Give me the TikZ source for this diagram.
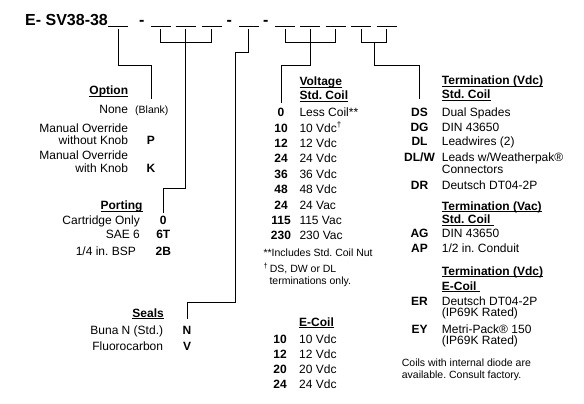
\documentclass[tikz,border=0pt]{standalone}
\usepackage{fontspec}
\setmainfont{Liberation Sans}
\usetikzlibrary{calc}
\frenchspacing
\tikzset{
  txt/.style={font=\fontsize{12}{14}\selectfont,inner sep=0pt},
  lft/.style={txt,anchor=base west},
  rgt/.style={txt,anchor=base east},
  code/.style={txt,anchor=base,font=\fontsize{12}{14}\selectfont\bfseries},
  small/.style={font=\fontsize{10.5}{12}\selectfont,inner sep=0pt,anchor=base west},
  big/.style={txt,font=\fontsize{16}{18}\selectfont\bfseries},
  wire/.style={line width=0.9pt},
  blank/.style={line width=1pt}
}
\newsavebox{\hdbox}
\newcommand{\hdr}[1]{\sbox{\hdbox}{\bfseries #1}\rlap{\rule[-2.2pt]{\wd\hdbox}{0.9pt}}\usebox{\hdbox}}

\begin{document}
\begin{tikzpicture}[x=1pt,y=-1pt]
\useasboundingbox (0,0) rectangle (584,404);
\node[big,anchor=base west] (title) at (25,25.7) {E- SV38-38};
\foreach \x/\n in {141.7/d1,229.3/d2,265.7/d3}
  \node[big,anchor=base] (\n) at (\x,25.7) {-};
\foreach \x [count=\i] in {118,160.7,185.7,211.7,248.8,285,310,335.5,361.3,386.7}{
  \draw[blank] (\x-10,26.5) -- (\x+10,26.5);
  \coordinate (t\i) at (\x,29.5);
}

\node[rgt] (opt) at (128.3,95) {\hdr{Option}};
\node[rgt] (none) at (128.3,113.3) {None};
\node[small] (blank) at (135,113.3) {(Blank)};
\node[rgt] (mo1) at (128.3,132.6) {Manual Override};
\node[rgt] (wo) at (128.3,144.3) {without Knob};
\node[code] (oP) at (151,144.3) {P};
\node[rgt] (mo2) at (128.3,159.3) {Manual Override};
\node[rgt] (wi) at (128.3,172) {with Knob};
\node[code] (oK) at (151,172) {K};

\node[rgt] (port) at (142.7,209.3) {\hdr{Porting}};
\node[rgt] (cart) at (140,224.3) {Cartridge Only};
\node[code] (p0) at (163.3,224.3) {0};
\node[rgt] (sae) at (140,238.6) {SAE 6};
\node[code] (p6T) at (163.3,238.6) {6T};
\node[rgt] (bsp) at (136,255.3) {1/4 in. BSP};
\node[code] (p2B) at (163.3,255.3) {2B};

\node[rgt] (seals) at (164,317) {\hdr{Seals}};
\node[rgt] (buna) at (163.3,334.3) {Buna N (Std.)};
\node[code] (sN) at (187,334.3) {N};
\node[rgt] (fluo) at (163.3,350.3) {Fluorocarbon};
\node[code] (sV) at (187,350.3) {V};

\node[lft] (volt) at (299.3,85.3) {\hdr{Voltage}};
\node[lft] (vstd) at (299.3,99.3) {\hdr{Std. Coil}};
\foreach \c/\d [count=\i from 0] in {0/Less Coil**,10/10 Vdc\textsuperscript{\textdagger},12/12 Vdc,24/24 Vdc,36/36 Vdc,48/48 Vdc,24/24 Vac,115/115 Vac,230/230 Vac}{
  \node[code] (v\i) at (281,{116.6+15.4*\i}) {\c};
  \node[lft] (vd\i) at (299.3,{116.6+15.4*\i}) {\d};
}
\node[small] (incl) at (263.3,256) {**Includes Std. Coil Nut};
\node[small] (dag1) at (263.3,272.8) {\textsuperscript{\textdagger}\,DS, DW or DL};
\node[small] (dag2) at (269.3,284.5) {terminations only.};

\node[lft] (ecoil) at (299,326) {\hdr{E-Coil}};
\foreach \c [count=\i from 0] in {10,12,20,24}{
  \node[code] (e\i) at (280,{343.3+15*\i}) {\c};
  \node[lft] (ed\i) at (299,{343.3+15*\i}) {\c\ Vdc};
}

\node[lft] (tvdc) at (441.7,84.3) {\hdr{Termination (Vdc)}};
\node[lft] (tstd) at (441.7,98.6) {\hdr{Std. Coil}};
\node[code] (DS) at (419.5,116) {DS};
\node[lft] (DSd) at (441.7,116) {Dual Spades};
\node[code] (DG) at (419.5,131) {DG};
\node[lft] (DGd) at (441.7,131) {DIN 43650};
\node[code] (DL) at (419.5,145.3) {DL};
\node[lft] (DLd) at (441.7,145.3) {Leadwires (2)};
\node[code] (DLW) at (419.5,161) {DL/W};
\node[lft] (DLWd) at (441.7,161) {Leads w/Weatherpak®};
\node[lft] (conn) at (441.7,173.6) {Connectors};
\node[code] (DR) at (419.5,189.3) {DR};
\node[lft] (DRd) at (441.7,189.3) {Deutsch DT04-2P};
\node[lft] (tvac) at (441.7,210) {\hdr{Termination (Vac)}};
\node[lft] (tstd2) at (441.7,223.6) {\hdr{Std. Coil\ }};
\node[code] (AG) at (419.5,237.6) {AG};
\node[lft] (AGd) at (441.7,237.6) {DIN 43650};
\node[code] (AP) at (419.5,252.6) {AP};
\node[lft] (APd) at (441.7,252.6) {1/2 in. Conduit};
\node[lft] (tvdc2) at (441.7,275) {\hdr{Termination (Vdc)}};
\node[lft] (tec) at (441.7,290) {\hdr{E-Coil\ }};
\node[code] (ER) at (419.5,305.3) {ER};
\node[lft] (ERd) at (441.7,305.3) {Deutsch DT04-2P};
\node[lft] (ERr) at (441.7,316.6) {(IP69K Rated)};
\node[code] (EY) at (419.5,333) {EY};
\node[lft] (EYd) at (441.7,333) {Metri-Pack® 150};
\node[lft] (EYr) at (441.7,344.3) {(IP69K Rated)};
\node[small] (diode1) at (401.7,366) {Coils with internal diode are};
\node[small] (diode2) at (401.7,378.8) {available. Consult factory.};

\draw[wire,shorten >=6pt] (t1) -- ++(0,36) -| (blank.north);
\draw[wire] (t2) -- ++(0,12.8) -| (t4);
\draw[wire,shorten >=3pt] (t3) -- ++(0,158.8) -| (p0.north);
\draw[wire,shorten >=7pt] (t5) -- ++(0,23) -- ++(-13.8,0) -- ++(0,249.8) -| (sN.north);
\draw[wire] (t6) -- ++(0,12.8) -| (t8);
\draw[wire,shorten >=5pt] (t7) -- ++(0,36) -| (v0.north);
\draw[wire] (t9) -- ++(0,12.8) -| (t10);
\draw[wire,shorten >=8pt] ($(t9)!.5!(t10)+(0,12.8)$) -- ++(0,23.2) -| (DS.north);
\end{tikzpicture}
\end{document}
